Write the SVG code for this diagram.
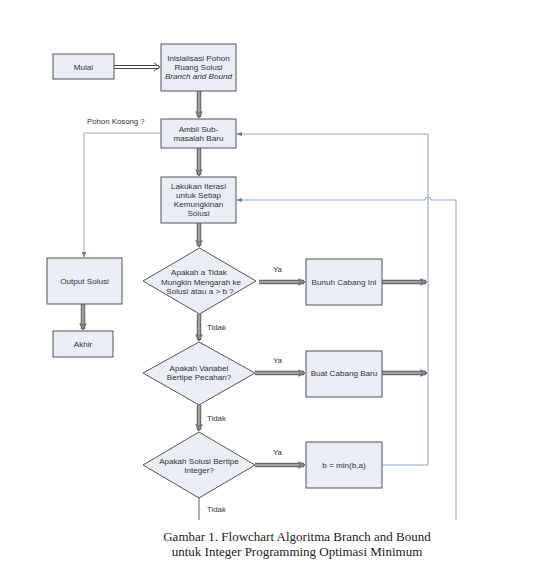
<svg xmlns="http://www.w3.org/2000/svg" width="543" height="574" viewBox="0 0 543 574">
<style>
.box{fill:#e9edf6;stroke:#555;stroke-width:1}
.t{font-family:"Liberation Sans",Arial,sans-serif;font-size:8.1px;fill:#333;text-anchor:middle}
.l{font-family:"Liberation Sans",Arial,sans-serif;font-size:7.8px;fill:#333}
.cap{font-family:"Liberation Serif","Times New Roman",serif;font-size:13px;fill:#222;text-anchor:middle}
.thk{stroke:#6a6a6a;stroke-width:4.5;fill:none}
.thin{stroke:#a0a0a0;stroke-width:2.2;fill:none}
.blue{stroke:#93a8c4;stroke-width:1;fill:none}
.blue2{stroke:#c5d1e0;stroke-width:2.2;fill:none}
</style>
<defs>
<marker id="ga" viewBox="0 0 10 10" refX="9" refY="5" markerWidth="8" markerHeight="8" markerUnits="userSpaceOnUse" orient="auto">
<path d="M1,1 L9,5 L1,9 L3,5 Z" fill="#909090" stroke="#606060" stroke-width="1"/>
</marker>
<marker id="ba" viewBox="0 0 10 10" refX="9" refY="5" markerWidth="6" markerHeight="6" markerUnits="userSpaceOnUse" orient="auto">
<path d="M0,1 L10,5 L0,9 Z" fill="#5b7fb5"/>
</marker>
</defs>

<g id="connectors">
<line x1="114" y1="65.5" x2="159" y2="65.5" stroke="#444" stroke-width="1"/>
<line x1="114" y1="68.5" x2="159" y2="68.5" stroke="#444" stroke-width="1"/>
<path d="M154,63 L160,67 L154,71" fill="none" stroke="#555" stroke-width="1"/>
<g>
<line class="thk" x1="199" y1="91" x2="199" y2="117"/>
<line class="thin" x1="199" y1="91" x2="199" y2="118" marker-end="url(#ga)"/>
<line class="thk" x1="199" y1="148" x2="199" y2="175"/>
<line class="thin" x1="199" y1="148" x2="199" y2="176" marker-end="url(#ga)"/>
<line class="thk" x1="199" y1="223" x2="199" y2="246"/>
<line class="thin" x1="199" y1="223" x2="199" y2="247" marker-end="url(#ga)"/>
<line class="thk" x1="199" y1="314" x2="199" y2="340"/>
<line class="thin" x1="199" y1="314" x2="199" y2="341" marker-end="url(#ga)"/>
<line class="thk" x1="199" y1="405" x2="199" y2="430"/>
<line class="thin" x1="199" y1="405" x2="199" y2="431" marker-end="url(#ga)"/>
<line class="thk" x1="83" y1="304" x2="83" y2="329"/>
<line class="thin" x1="83" y1="304" x2="83" y2="330" marker-end="url(#ga)"/>
<line class="thk" x1="259" y1="282" x2="304" y2="282"/>
<line class="thin" x1="259" y1="282" x2="305" y2="282" marker-end="url(#ga)"/>
<line class="thk" x1="382" y1="282" x2="426" y2="282"/>
<line class="thin" x1="382" y1="282" x2="427" y2="282" marker-end="url(#ga)"/>
<line class="thk" x1="255" y1="373" x2="304" y2="373"/>
<line class="thin" x1="255" y1="373" x2="305" y2="373" marker-end="url(#ga)"/>
<line class="thk" x1="382" y1="373" x2="426" y2="373"/>
<line class="thin" x1="382" y1="373" x2="427" y2="373" marker-end="url(#ga)"/>
<line class="thk" x1="255" y1="465" x2="304" y2="465"/>
<line class="thin" x1="255" y1="465" x2="305" y2="465" marker-end="url(#ga)"/>
</g>
<line x1="199" y1="498" x2="199" y2="520" stroke="#999" stroke-width="1.5"/>
<path class="blue2" d="M428,465 V134"/>
<path class="blue" d="M382,465 H428"/>
<path class="blue" d="M428,134 H237" marker-end="url(#ba)"/>
<path class="blue" d="M456,520 V200 H431 A3,3 0 0 0 425,200 H237" marker-end="url(#ba)"/>
<path class="blue" d="M161,133 H84 V257" marker-end="url(#ba)"/>
</g>

<g id="mulai"><rect class="box" x="53" y="54" width="61" height="25"/><text class="t" x="83.5" y="69.5">Mulai</text></g>
<g id="inisialisasi"><rect class="box" x="161" y="44" width="75" height="47"/>
<text class="t" x="198.5" y="61">Inisialisasi Pohon</text>
<text class="t" x="198.5" y="70">Ruang Solusi</text>
<text class="t" x="198.5" y="78.5" font-style="italic">Branch and Bound</text></g>
<g id="ambil"><rect class="box" x="161" y="119" width="75" height="29"/>
<text class="t" x="198.5" y="132">Ambil Sub-</text>
<text class="t" x="198.5" y="141">masalah Baru</text></g>
<g id="lakukan"><rect class="box" x="161" y="177" width="75" height="46"/>
<text class="t" x="198.5" y="189">Lakukan Iterasi</text>
<text class="t" x="198.5" y="198">untuk Setiap</text>
<text class="t" x="198.5" y="207">Kemungkinan</text>
<text class="t" x="198.5" y="216">Solusi</text></g>
<g id="d1"><polygon class="box" points="199.5,248 256,281 199.5,314 143,281"/>
<text class="t" x="199" y="275">Apakah a Tidak</text>
<text class="t" x="201" y="284.5">Mungkin Mengarah ke</text>
<text class="t" x="200" y="294">Solusi atau  a &gt; b ?</text></g>
<g id="bunuh"><rect class="box" x="306" y="259" width="76" height="46"/><text class="t" x="344" y="285">Bunuh Cabang Ini</text></g>
<g id="d2"><polygon class="box" points="199,342 255,373 199,405 143,373"/>
<text class="t" x="199" y="371">Apakah Variabel</text>
<text class="t" x="199" y="380">Bertipe Pecahan?</text></g>
<g id="buat"><rect class="box" x="306" y="351" width="76" height="46"/><text class="t" x="344" y="376">Buat Cabang Baru</text></g>
<g id="d3"><polygon class="box" points="199,432 255,465 199,498 143,465"/>
<text class="t" x="199" y="464">Apakah Solusi Bertipe</text>
<text class="t" x="199" y="472.5">Integer?</text></g>
<g id="bmin"><rect class="box" x="306" y="442" width="76" height="46"/><text class="t" x="344" y="468">b = min(b,a)</text></g>
<g id="output"><rect class="box" x="47" y="258" width="75" height="46"/><text class="t" x="84.5" y="284">Output Solusi</text></g>
<g id="akhir"><rect class="box" x="53" y="331" width="60" height="26"/><text class="t" x="83" y="347">Akhir</text></g>

<g id="labels">
<text class="l" x="87" y="124">Pohon Kosong ?</text>
<text class="l" x="273" y="272">Ya</text>
<text class="l" x="273" y="363">Ya</text>
<text class="l" x="273" y="455">Ya</text>
<text class="l" x="207" y="330">Tidak</text>
<text class="l" x="207" y="421">Tidak</text>
<text class="l" x="207" y="512">Tidak</text>
</g>

<g id="caption">
<text class="cap" x="297" y="541">Gambar 1. Flowchart Algoritma Branch and Bound</text>
<text class="cap" x="297" y="556">untuk Integer Programming Optimasi Minimum</text>
</g>
</svg>
